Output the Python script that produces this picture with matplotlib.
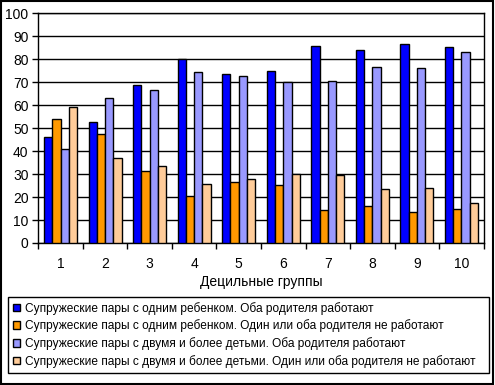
import matplotlib.pyplot as plt
import matplotlib.patches as mpatches
import numpy as np

plt.rcParams['font.family'] = ['Liberation Sans', 'DejaVu Sans']

# данные
groups = ['1', '2', '3', '4', '5', '6', '7', '8', '9', '10']
one_child_both = [46.1, 52.5, 68.6, 80.0, 73.4, 74.7, 85.6, 83.9, 86.5, 85.2]
one_child_not = [54.0, 47.3, 31.2, 20.3, 26.4, 25.1, 14.2, 16.0, 13.4, 14.7]
two_child_both = [40.8, 63.0, 66.6, 74.4, 72.5, 69.9, 70.5, 76.5, 76.0, 83.0]
two_child_not = [59.1, 36.9, 33.5, 25.7, 27.7, 29.9, 29.5, 23.4, 23.8, 17.3]

labels = ['Супружеские пары с одним ребенком. Оба родителя работают',
          'Супружеские пары с одним ребенком. Один или оба родителя не работают',
          'Супружеские пары с двумя и более детьми. Оба родителя работают',
          'Супружеские пары с двумя и более детьми. Один или оба родителя не работают']
colors = ['#0000FF', '#FF9900', '#9999FF', '#FFCC99']
series = [one_child_both, one_child_not, two_child_both, two_child_not]

fig = plt.figure(figsize=(4.95, 3.85), dpi=100)
ax = fig.add_axes([38.3 / 495, 1 - 243 / 385, 445.4 / 495, 229.7 / 385])

x = np.arange(len(groups))
w = 0.185
for i, (vals, c) in enumerate(zip(series, colors)):
    ax.bar(x + (i - 1.5) * w, vals, w, color=c, edgecolor='black', linewidth=1, zorder=3)

ax.set_xlim(-0.5, len(groups) - 0.5)
ax.set_ylim(0, 100)
ax.set_yticks(range(0, 101, 10))
ax.yaxis.grid(True, color='black', linewidth=1, zorder=0)
ax.set_xticks(x)
ax.set_xticklabels(groups, fontsize=10)
ax.set_xticks(np.arange(-0.5, len(groups)), minor=True)
ax.tick_params(axis='x', which='major', length=0, pad=10)
ax.tick_params(axis='x', which='minor', length=4, width=1, direction='out')
ax.tick_params(axis='y', length=4, width=1, labelsize=10, pad=3)
for s in ax.spines.values():
    s.set_linewidth(1)
ax.set_xlabel('Децильные группы', fontsize=10, labelpad=3)

handles = [mpatches.Patch(facecolor=c, edgecolor='black', linewidth=1) for c in colors]
leg = fig.legend(handles, labels, loc='upper left',
                 bbox_to_anchor=(8 / 495, 1 - 297 / 385, 481 / 495, 0),
                 mode='expand', fontsize=8.6, handlelength=0.6, handleheight=0.6,
                 handletextpad=0.4, labelspacing=0.4, borderpad=0.4,
                 borderaxespad=0, fancybox=False, framealpha=1, edgecolor='black')
leg.get_frame().set_linewidth(1)

fig.patches.append(mpatches.Rectangle((0.5 / 495, 1.5 / 385), 492 / 495, 382.5 / 385,
                                      transform=fig.transFigure, fill=False,
                                      edgecolor='black', linewidth=1.5))

plt.savefig('out.png', dpi=100)
